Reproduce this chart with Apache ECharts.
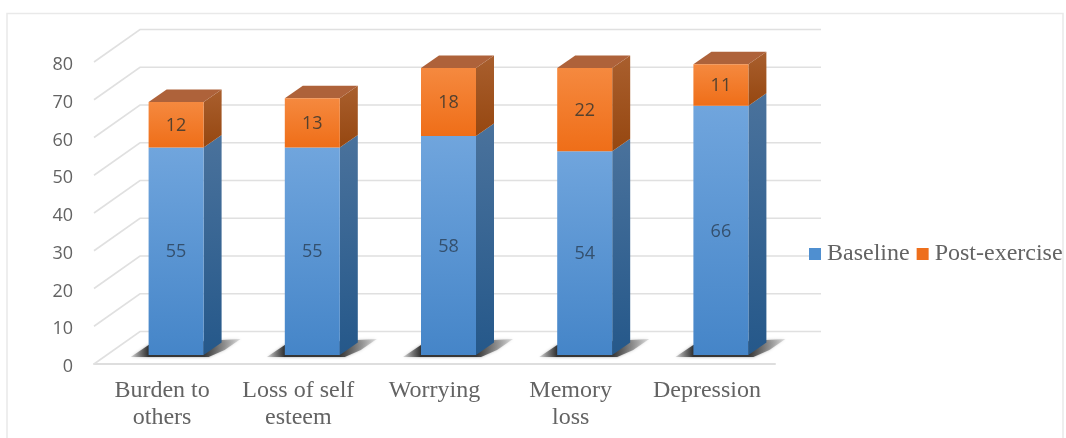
<!DOCTYPE html>
<html>
<head>
<meta charset="utf-8">
<style>html,body{margin:0;padding:0;background:#fff}#chart{width:1066px;height:438px}</style>
<script src="https://cdn.jsdelivr.net/npm/echarts@6/dist/echarts.min.js"></script>
</head>
<body>
<div id="chart"></div>
<script>
const categories = ['Burden to\nothers', 'Loss of self\nesteem', 'Worrying', 'Memory\nloss', 'Depression'];
const baseline = [55, 55, 58, 54, 66];
const postExercise = [12, 13, 18, 22, 11];
const yTicks = [0, 10, 20, 30, 40, 50, 60, 70, 80];

// Oblique projection of the fake 3D chart box, in pixels.
const WALL_DX = 46, WALL_DY = -32.5;
const BAR_DX = 14, BAR_DY = -9;
const BAR_WIDTH = 55, DEPTH_X = 18, DEPTH_Y = -12.5;

const grad = (a, b) => new echarts.graphic.LinearGradient(0, 0, 0, 1, [
  { offset: 0, color: a }, { offset: 1, color: b }
]);
const SANS = '"Open Sans", "Noto Sans", sans-serif';
const SERIF = '"Liberation Serif", serif';

function renderWall(params, api) {
  const box = params.coordSys;
  const y = api.coord([0, api.value(0)])[1];
  const x0 = box.x, x1 = box.x + box.width;
  return {
    type: 'polyline', silent: true,
    shape: { points: [[x0, y], [x0 + WALL_DX, y + WALL_DY], [x1 + WALL_DX, y + WALL_DY]] },
    style: { stroke: '#e0e0e0', lineWidth: 1.6, fill: null }
  };
}

function barRenderer(palette, withTop) {
  return function (params, api) {
    const i = api.value(0), start = api.value(1), end = api.value(2);
    const left = api.coord([i, 0])[0] + BAR_DX - BAR_WIDTH / 2;
    const right = left + BAR_WIDTH;
    const yLow = api.coord([i, start])[1] + BAR_DY;
    const yHigh = api.coord([i, end])[1] + BAR_DY;
    const children = [];
    if (start === 0) {
      // soft contact shadow on the floor
      children.push({
        type: 'polygon', silent: true,
        shape: { points: [
          [left - 18, yLow + 2], [left, yLow - 10], [right + 18, yLow - 15], [right + 37, yLow - 16],
          [right + 21, yLow - 5], [right + 5, yLow + 2]
        ] },
        style: {
          shadowBlur: 3, shadowColor: 'rgba(60,60,60,0.5)',
          fill: new echarts.graphic.LinearGradient(0, 0, 1, 0, [
            { offset: 0, color: 'rgba(90,90,90,0.2)' },
            { offset: 0.16, color: 'rgba(45,45,45,0.95)' },
            { offset: 0.67, color: 'rgba(50,50,50,0.95)' },
            { offset: 1, color: 'rgba(120,120,120,0.2)' }
          ])
        }
      });
    }
    children.push({
      type: 'polygon', silent: true,
      shape: { points: [[right, yLow], [right + DEPTH_X, yLow + DEPTH_Y],
                        [right + DEPTH_X, yHigh + DEPTH_Y], [right, yHigh]] },
      style: { fill: grad(palette.sideTop, palette.sideBottom) }
    });
    if (withTop) {
      children.push({
        type: 'polygon', silent: true,
        shape: { points: [[left, yHigh], [left + DEPTH_X, yHigh + DEPTH_Y],
                          [right + DEPTH_X, yHigh + DEPTH_Y], [right, yHigh]] },
        style: { fill: palette.top }
      });
    }
    children.push({
      type: 'rect', silent: true,
      shape: { x: left, y: yHigh, width: BAR_WIDTH, height: yLow - yHigh },
      style: { fill: grad(palette.frontTop, palette.frontBottom) }
    });
    children.push({
      type: 'text', silent: true, z2: 5,
      style: {
        text: String(end - start), x: (left + right) / 2, y: (yLow + yHigh) / 2 + 1,
        align: 'center', verticalAlign: 'middle',
        font: '18px ' + SANS, fill: palette.label
      }
    });
    return { type: 'group', children };
  };
}

const bluePalette = { frontTop: '#70a5dd', frontBottom: '#4585c8', sideTop: '#4a729c', sideBottom: '#25588a', label: '#34506e' };
const orangePalette = { frontTop: '#f5893f', frontBottom: '#ef6e18', sideTop: '#a95f2e', sideBottom: '#964710', top: '#ae623a', label: '#54412f' };

const chart = echarts.init(document.getElementById('chart'), null, { renderer: 'canvas' });
chart.setOption({
  animation: false,
  backgroundColor: '#ffffff',
  graphic: [{
    type: 'rect', silent: true, z: 0,
    shape: { x: 7, y: 13.5, width: 1056, height: 440 },
    style: { fill: null, stroke: '#e9e9e9', lineWidth: 1.5 }
  }],
  grid: { left: 94, top: 62, width: 681, height: 302 },
  xAxis: {
    type: 'category',
    data: categories,
    axisLine: { show: true, lineStyle: { color: '#dedede', width: 2 } },
    axisTick: { show: false },
    axisLabel: {
      interval: 0, margin: 13,
      fontFamily: SERIF, fontSize: 24, color: '#636363', lineHeight: 27
    }
  },
  yAxis: {
    type: 'value', min: 0, max: 80, interval: 10,
    axisLine: { show: false }, axisTick: { show: false }, splitLine: { show: false },
    axisLabel: { margin: 21, fontFamily: SANS, fontSize: 18, color: '#636363', verticalAlign: 'top', lineHeight: 6 }
  },
  legend: {
    left: 809, top: 242, itemWidth: 12, itemHeight: 12, itemGap: 7, padding: 0,
    selectedMode: false,
    textStyle: { fontFamily: SERIF, fontSize: 24, color: '#636363', padding: [1, 0, 0, 1] },
    data: [
      { name: 'Baseline', icon: 'rect', itemStyle: { color: '#4f8fd0' } },
      { name: 'Post-exercise', icon: 'rect', itemStyle: { color: '#ee6f1c' } }
    ]
  },
  series: [
    { type: 'custom', name: 'Grid walls', z: 1, silent: true, clip: false,
      renderItem: renderWall, encode: { y: 0 }, data: yTicks.map(v => [v]) },
    { type: 'custom', name: 'Baseline', z: 2, silent: true, clip: false,
      renderItem: barRenderer(bluePalette, false), encode: { x: 0, y: 2 },
      data: baseline.map((v, i) => [i, 0, v]) },
    { type: 'custom', name: 'Post-exercise', z: 3, silent: true, clip: false,
      renderItem: barRenderer(orangePalette, true), encode: { x: 0, y: 2 },
      data: postExercise.map((v, i) => [i, baseline[i], baseline[i] + v]) }
  ]
});
</script>
</body>
</html>
